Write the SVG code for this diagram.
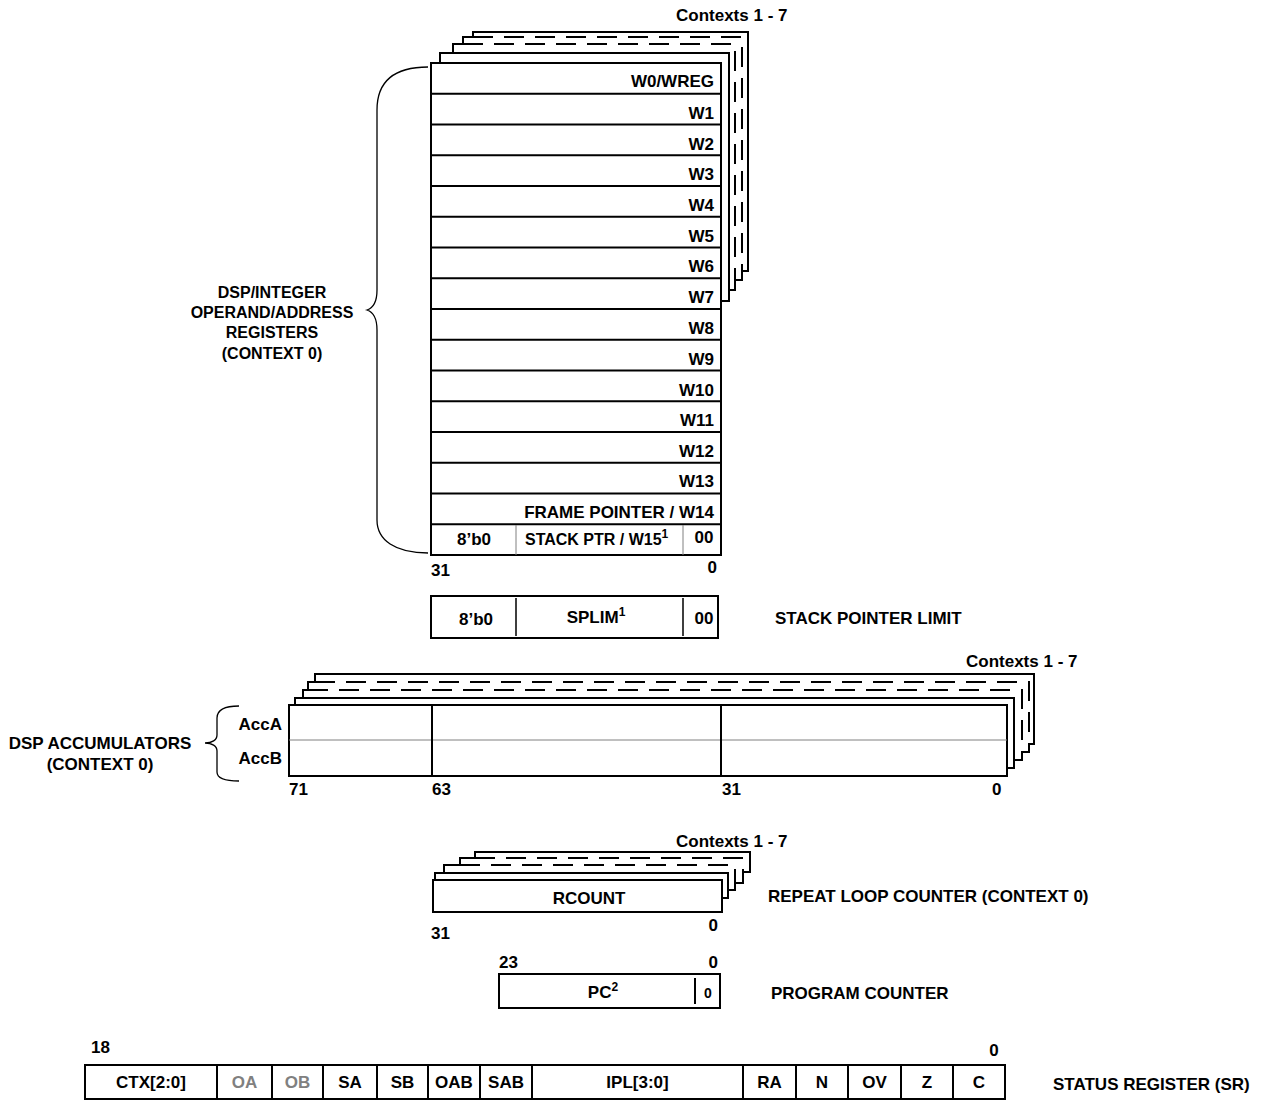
<svg xmlns="http://www.w3.org/2000/svg" width="1265" height="1100" viewBox="0 0 1265 1100">
<style>
.t{font-family:"Liberation Sans",Arial,sans-serif;font-weight:bold;font-size:17px;fill:#000}
.s16{font-size:16px}
.m{text-anchor:middle}
.e{text-anchor:end}
.g{fill:#808080}
.sup{font-size:12px}
.box{fill:#fff;stroke:#000;stroke-width:2}
.ln{stroke:#000;stroke-width:2;fill:none}
.thin{stroke:#808080;stroke-width:1;fill:none}
.dash{stroke:#000;stroke-width:2;fill:none;stroke-dasharray:20 11}
.br{stroke:#000;stroke-width:1.3;fill:none}
</style>
<rect width="1265" height="1100" fill="#fff"/>

<g id="wreg-file">
  <path class="ln" d="M440,63 V53 H453 V44 H463 V37 H473 V32 H748 V271 H742 V280 H735 V290 H729 V301 H721"/>
  <path class="ln" d="M453,53 H729 V290"/>
  <path class="dash" d="M463,44 H735 V280"/>
  <path class="dash" d="M473,37 H742 V271"/>
  <rect class="box" x="431" y="63" width="290" height="492"/>
  <path class="ln" d="M431,93.75H721M431,124.5H721M431,155.25H721M431,186H721M431,216.75H721M431,247.5H721M431,278.25H721M431,309H721M431,339.75H721M431,370.5H721M431,401.25H721M431,432H721M431,462.75H721M431,493.5H721M431,524.25H721"/>
  <path class="thin" d="M516,525V555M683,525V555"/>
  <text class="t" x="676" y="21">Contexts 1 - 7</text>
  <text class="t e" x="714" y="87">W0/WREG</text>
  <text class="t e" x="714" y="119">W1</text>
  <text class="t e" x="714" y="150">W2</text>
  <text class="t e" x="714" y="180">W3</text>
  <text class="t e" x="714" y="211">W4</text>
  <text class="t e" x="714" y="242">W5</text>
  <text class="t e" x="714" y="272">W6</text>
  <text class="t e" x="714" y="303">W7</text>
  <text class="t e" x="714" y="334">W8</text>
  <text class="t e" x="714" y="365">W9</text>
  <text class="t e" x="714" y="396">W10</text>
  <text class="t e" x="714" y="426">W11</text>
  <text class="t e" x="714" y="457">W12</text>
  <text class="t e" x="714" y="487">W13</text>
  <text class="t e" x="714" y="518">FRAME POINTER / W14</text>
  <text class="t m" x="474" y="545">8’b0</text>
  <text class="t s16" x="525" y="545">STACK PTR / W15<tspan class="sup" dy="-7">1</tspan></text>
  <text class="t m" x="704" y="543">00</text>
  <text class="t" x="431" y="576">31</text>
  <text class="t e" x="717" y="573">0</text>
</g>

<g id="label-wreg">
  <text class="t m s16" x="272" y="298">DSP/INTEGER</text>
  <text class="t m s16" x="272" y="318">OPERAND/ADDRESS</text>
  <text class="t m s16" x="272" y="338">REGISTERS</text>
  <text class="t m s16" x="272" y="359">(CONTEXT 0)</text>
</g>

<g id="splim">
  <rect class="box" x="431" y="596" width="287" height="42"/>
  <path class="ln" d="M516,598V636M683,598V636" style="stroke-width:1.5"/>
  <text class="t m" x="476" y="625">8’b0</text>
  <text class="t m" x="596" y="623">SPLIM<tspan class="sup" dy="-7">1</tspan></text>
  <text class="t m" x="704" y="624">00</text>
  <text class="t" x="775" y="624">STACK POINTER LIMIT</text>
</g>

<g id="accumulators">
  <path class="ln" d="M295,705 V698 H303 V690 H308 V682 H315 V674 H1034 V744 H1029 V752 H1022 V760 H1014 V768 H1007"/>
  <path class="ln" d="M303,698 H1014 V760"/>
  <path class="dash" d="M308,690 H1022 V752"/>
  <path class="dash" d="M315,682 H1029 V744"/>
  <rect class="box" x="289" y="705" width="718" height="71"/>
  <path class="thin" d="M289,740H1007"/>
  <path class="ln" d="M432,705V776M721,705V776"/>
  <text class="t" x="966" y="667">Contexts 1 - 7</text>
  <text class="t e" x="282" y="730">AccA</text>
  <text class="t e" x="282" y="764">AccB</text>
  <text class="t" x="289" y="795">71</text>
  <text class="t" x="432" y="795">63</text>
  <text class="t" x="722" y="795">31</text>
  <text class="t" x="992" y="795">0</text>
</g>

<g id="label-acc">
  <text class="t m" x="100" y="749">DSP ACCUMULATORS</text>
  <text class="t m" x="100" y="770">(CONTEXT 0)</text>
</g>

<g id="rcount">
  <path class="ln" d="M435,880 V873 H444 V865 H460 V858 H475 V852 H750 V872 H743 V883 H735 V890 H728 V898 H722"/>
  <path class="ln" d="M444,873 H728 V890"/>
  <path class="dash" d="M460,865 H735 V883"/>
  <path class="dash" d="M475,858 H743 V872"/>
  <rect class="box" x="433" y="880" width="289" height="32"/>
  <text class="t" x="676" y="847">Contexts 1 - 7</text>
  <text class="t m" x="589" y="904">RCOUNT</text>
  <text class="t" x="431" y="939">31</text>
  <text class="t e" x="718" y="931">0</text>
  <text class="t" x="768" y="902">REPEAT LOOP COUNTER (CONTEXT 0)</text>
</g>

<g id="pc">
  <rect class="box" x="499" y="974" width="221" height="34"/>
  <path class="ln" d="M695,978V1004"/>
  <text class="t m" x="603" y="998">PC<tspan class="sup" dy="-7">2</tspan></text>
  <text class="t m" x="708" y="998" style="font-size:14px">0</text>
  <text class="t" x="499" y="968">23</text>
  <text class="t e" x="718" y="968">0</text>
  <text class="t" x="771" y="999">PROGRAM COUNTER</text>
</g>

<g id="sr">
  <rect class="box" x="85" y="1065" width="920" height="34"/>
  <path class="ln" d="M217,1065V1099M272,1065V1099M323,1065V1099M377,1065V1099M428,1065V1099M480,1065V1099M532,1065V1099M743,1065V1099M796,1065V1099M848,1065V1099M901,1065V1099M953,1065V1099"/>
  <text class="t m" x="151" y="1088">CTX[2:0]</text>
  <text class="t m g" x="244.5" y="1088">OA</text>
  <text class="t m g" x="297.5" y="1088">OB</text>
  <text class="t m" x="350" y="1088">SA</text>
  <text class="t m" x="402.5" y="1088">SB</text>
  <text class="t m" x="454" y="1088">OAB</text>
  <text class="t m" x="506" y="1088">SAB</text>
  <text class="t m" x="637.5" y="1088">IPL[3:0]</text>
  <text class="t m" x="769.5" y="1088">RA</text>
  <text class="t m" x="822" y="1088">N</text>
  <text class="t m" x="874.5" y="1088">OV</text>
  <text class="t m" x="927" y="1088">Z</text>
  <text class="t m" x="979" y="1088">C</text>
  <text class="t" x="91" y="1053">18</text>
  <text class="t m" x="994" y="1056">0</text>
  <text class="t" x="1053" y="1090">STATUS REGISTER (SR)</text>
</g>

<g id="connectors">
  <path class="br" d="M428,67 C395,67 377,80 377,110 V290 C377,302 373,308 367,310 C373,312 377,318 377,330 V520 C377,540 395,553 428,553"/>
  <path class="br" d="M239,706 C225,706 217,710 217,718 V735 C217,740 212,743 205,743 C212,743 217,746 217,751 V772 C217,778 225,781 239,781"/>
</g>
</svg>
